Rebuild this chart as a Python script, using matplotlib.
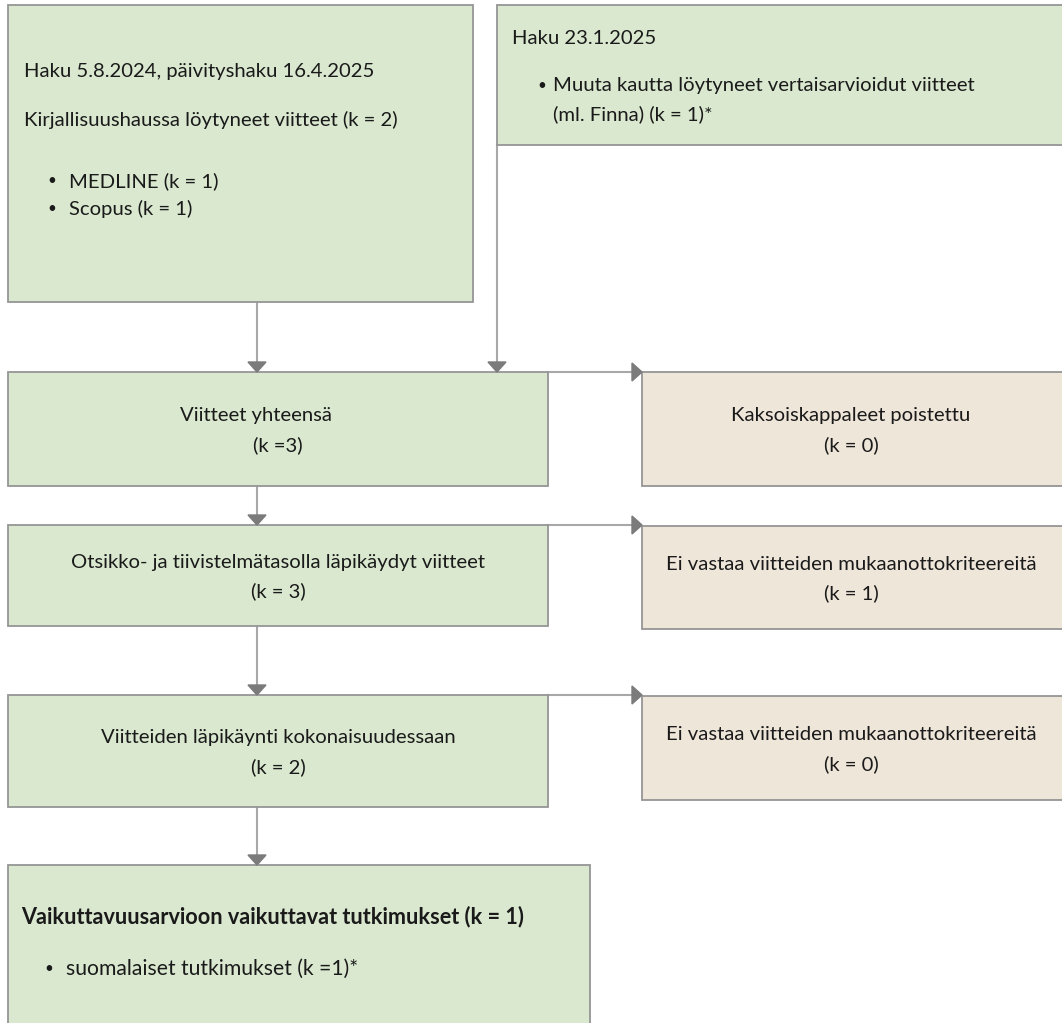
import matplotlib.pyplot as plt
from matplotlib.patches import Rectangle, Polygon

plt.rcParams['font.family'] = ['Lato', 'DejaVu Sans']

# flow numbers (k = number of references)
search_dates = "Haku 5.8.2024, päivityshaku 16.4.2025"
other_search = "Haku 23.1.2025"
databases = ["MEDLINE", "Scopus"]
database_counts = [1, 1]
found_total = 2
other_count = 1
step_labels = ["Viitteet yhteensä", "Otsikko- ja tiivistelmätasolla läpikäydyt viitteet",
               "Viitteiden läpikäynti kokonaisuudessaan"]
step_counts = ["(k =3)", "(k = 3)", "(k = 2)"]
excl_labels = ["Kaksoiskappaleet poistettu", "Ei vastaa viitteiden mukaanottokriteereitä",
               "Ei vastaa viitteiden mukaanottokriteereitä"]
excl_counts = [0, 1, 0]
final_count = 1
finnish_count = 1

GREEN = '#d9e8cf'
BEIGE = '#efe6da'
EDGE = '#959595'
LINE = '#a8a8a8'
HEAD = '#7b7b7b'
FS = 14.6

fig = plt.figure(figsize=(10.62, 10.23), dpi=100)
ax = fig.add_axes([0, 0, 1, 1])
ax.set_xlim(0, 1062)
ax.set_ylim(1023, 0)
ax.axis('off')


def box(x0, y0, x1, y1, color):
    ax.add_patch(Rectangle((x0, y0), x1 - x0, y1 - y0, facecolor=color,
                           edgecolor=EDGE, linewidth=1.3, zorder=2))


def down_arrow(x, y0, y1):
    ax.plot([x, x], [y0, y1 - 8], color=LINE, lw=1.5, zorder=1)
    ax.add_patch(Polygon([(x - 9, y1 - 10), (x + 9, y1 - 10), (x, y1)],
                         closed=True, color=HEAD, zorder=3))


def right_arrow(y, x0, x1):
    ax.plot([x0, x1 - 8], [y, y], color=LINE, lw=1.5, zorder=1)
    ax.add_patch(Polygon([(x1 - 10, y - 9), (x1 - 10, y + 9), (x1, y)],
                         closed=True, color=HEAD, zorder=3))


def txt(x, y, s, ha='left', bold=False, size=FS):
    ax.text(x, y, s, ha=ha, va='center', fontsize=size, color='#1a1a1a',
            fontweight='bold' if bold else 'normal', zorder=4)


def bullet(x, y):
    txt(x, y, "•", size=FS * 0.75)


# top boxes
box(8, 5, 473, 302, GREEN)
txt(24, 71, search_dates)
txt(24, 120, f"Kirjallisuushaussa löytyneet viitteet (k = {found_total})")
for i, (db, n) in enumerate(zip(databases, database_counts)):
    bullet(47, 181 + 28 * i)
    txt(69, 181 + 28 * i, f"{db} (k = {n})")

box(497, 5, 1075, 145, GREEN)
txt(512, 38, other_search)
bullet(537, 86)
txt(553, 86, "Muuta kautta löytyneet vertaisarvioidut viitteet")
txt(553, 114, f"(ml. Finna) (k = {other_count})*")

down_arrow(257, 302, 372)
down_arrow(497, 145, 372)

# main steps
rows = [(372, 486), (525, 626), (695, 807)]
excl_rows = [(372, 486), (526, 629), (696, 800)]
for i, ((y0, y1), (e0, e1)) in enumerate(zip(rows, excl_rows)):
    box(8, y0, 548, y1, GREEN)
    box(642, e0, 1075, e1, BEIGE)
    right_arrow(y0, 548, 642)
    mid = (y0 + y1) / 2
    emid = (e0 + e1) / 2
    cx = 256 if i == 0 else 278
    txt(cx, mid - 13, step_labels[i], ha='center')
    txt(278, mid + 16, step_counts[i], ha='center')
    txt(851, emid - 13, excl_labels[i], ha='center')
    txt(851, emid + 16, f"(k = {excl_counts[i]})", ha='center')

down_arrow(257, 486, 525)
down_arrow(257, 626, 695)
down_arrow(257, 807, 865)

# final box
box(8, 865, 590, 1040, GREEN)
txt(21, 917, f"Vaikuttavuusarvioon vaikuttavat tutkimukset (k = {final_count})",
    bold=True, size=FS * 1.07)
bullet(44, 969)
txt(66, 969, f"suomalaiset tutkimukset (k ={finnish_count})*", size=FS * 1.04)

fig.savefig("out.png", dpi=100)
